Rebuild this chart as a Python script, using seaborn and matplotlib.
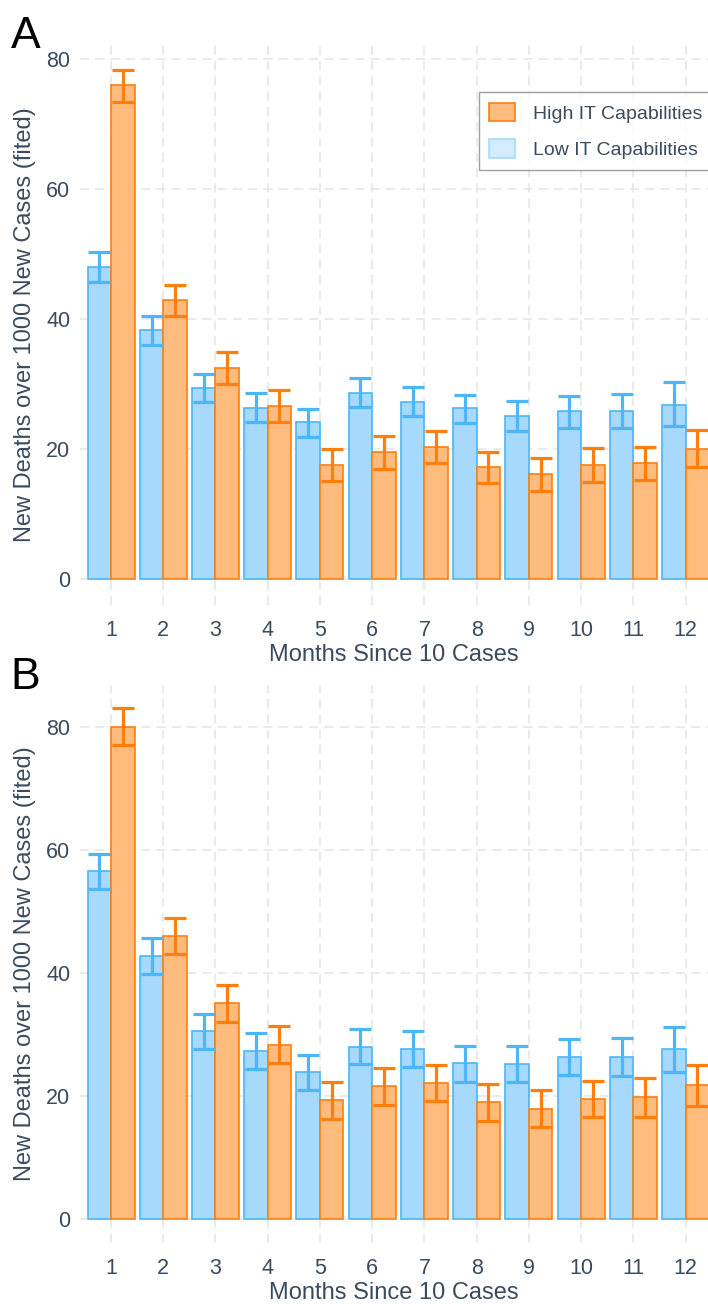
import matplotlib
matplotlib.use('Agg')
import matplotlib.pyplot as plt
import matplotlib.patches as mpatches
import pandas as pd
import seaborn as sns

# Data
months = list(range(1, 13))

a_low = [48.0, 38.3, 29.4, 26.4, 24.1, 28.7, 27.3, 26.3, 25.1, 25.8, 25.9, 26.8]
a_low_lo = [45.7, 36.1, 27.2, 24.2, 21.9, 26.5, 25.1, 24.0, 22.8, 23.3, 23.2, 23.5]
a_low_hi = [50.3, 40.5, 31.6, 28.6, 26.2, 30.9, 29.5, 28.4, 27.4, 28.2, 28.5, 30.3]
a_high = [76.0, 42.9, 32.5, 26.6, 17.5, 19.5, 20.4, 17.3, 16.1, 17.5, 17.8, 20.0]
a_high_lo = [73.5, 40.5, 30.0, 24.2, 15.1, 17.0, 17.9, 14.8, 13.6, 15.0, 15.2, 17.2]
a_high_hi = [78.4, 45.2, 34.9, 29.1, 19.95, 22.0, 22.8, 19.6, 18.6, 20.1, 20.4, 22.9]

b_low = [56.6, 42.7, 30.5, 27.3, 23.9, 28.0, 27.6, 25.3, 25.2, 26.4, 26.4, 27.6]
b_low_lo = [53.7, 39.8, 27.6, 24.4, 21.0, 25.2, 24.7, 22.3, 22.2, 23.4, 23.2, 23.9]
b_low_hi = [59.4, 45.6, 33.4, 30.2, 26.7, 30.9, 30.5, 28.1, 28.1, 29.3, 29.4, 31.2]
b_high = [80.0, 46.0, 35.1, 28.3, 19.3, 21.6, 22.1, 19.0, 17.9, 19.5, 19.8, 21.7]
b_high_lo = [77.1, 43.0, 32.1, 25.3, 16.3, 18.6, 19.1, 16.0, 15.0, 16.5, 16.6, 18.4]
b_high_hi = [83.0, 49.0, 38.1, 31.3, 22.2, 24.6, 25.1, 22.0, 21.0, 22.5, 22.9, 25.1]

groups = ['Low IT Capabilities', 'High IT Capabilities']
fills = {'Low IT Capabilities': '#a6d9fb', 'High IT Capabilities': '#fdbb7d'}
edges = {'Low IT Capabilities': '#4cb6f6', 'High IT Capabilities': '#fe7f0e'}
text_col = '#3b4b5e'

sns.set_theme(style='white')
plt.rcParams['font.family'] = ['Liberation Sans', 'DejaVu Sans']


def make_df(low, high):
    return pd.DataFrame({
        'month': months * 2,
        'value': low + high,
        'group': [groups[0]] * 12 + [groups[1]] * 12,
    })


def draw_panel(ax, low, low_lo, low_hi, high, high_lo, high_hi, ylim):
    df = make_df(low, high)
    sns.barplot(data=df, x='month', y='value', hue='group', hue_order=groups,
                palette=fills, width=0.9, saturation=1, errorbar=None,
                legend=False, ax=ax)
    series = [(low, low_lo, low_hi), (high, high_lo, high_hi)]
    for cont, g, (v, lo, hi) in zip(ax.containers, groups, series):
        xs = []
        for bar in cont:
            bar.set_edgecolor(edges[g])
            bar.set_linewidth(1.2)
            xs.append(bar.get_x() + bar.get_width() / 2)
        yerr = [[m - l for m, l in zip(v, lo)], [h - m for m, h in zip(v, hi)]]
        ax.errorbar(xs, v, yerr=yerr, fmt='none', ecolor=edges[g],
                    elinewidth=2.3, capsize=7.8, capthick=2.3, zorder=5)

    ax.set_xlim(-0.594, 11.43)
    ax.set_ylim(*ylim)
    ax.set_yticks([0, 20, 40, 60, 80])
    ax.set_axisbelow(True)
    ax.grid(True, color='#e4e4e4', linestyle=(0, (6, 4)), linewidth=1.1)
    sns.despine(ax=ax, left=True, bottom=True)
    ax.tick_params(length=0, labelsize=15.5, colors=text_col)
    ax.tick_params(axis='x', pad=11)
    ax.tick_params(axis='y', pad=7)
    ax.set_xlabel('Months Since 10 Cases', fontsize=17, color=text_col, labelpad=2)
    ax.set_ylabel('New Deaths over 1000 New Cases (fited)', fontsize=17,
                  color=text_col, labelpad=7)


fig = plt.figure(figsize=(7.08, 13.04), dpi=100)
ax_a = fig.add_axes([0.113, 0.536, 0.887, 0.4295])
ax_b = fig.add_axes([0.113, 0.0468, 0.887, 0.4279])

draw_panel(ax_a, a_low, a_low_lo, a_low_hi, a_high, a_high_lo, a_high_hi, (-4.0, 82.2))
draw_panel(ax_b, b_low, b_low_lo, b_low_hi, b_high, b_high_lo, b_high_hi, (-3.9, 86.8))

handles = [
    mpatches.Patch(facecolor=fills['High IT Capabilities'], edgecolor=edges['High IT Capabilities'],
                   linewidth=1.2, label='High IT Capabilities'),
    mpatches.Patch(facecolor='#d2ebfd', edgecolor='#a8d9fb', linewidth=1.2,
                   label='Low IT Capabilities'),
]
leg = ax_a.legend(handles=handles, loc='upper left', bbox_to_anchor=(0.635, 0.916),
                  fontsize=14, frameon=True, fancybox=False, borderpad=0.55,
                  handlelength=1.3, handleheight=1.1, handletextpad=0.95,
                  labelspacing=0.85, borderaxespad=0)
leg.get_frame().set_edgecolor('#888888')
leg.get_frame().set_linewidth(1.0)
for t in leg.get_texts():
    t.set_color(text_col)

fig.text(0.015, 0.9635, 'A', fontsize=32, color='black', va='baseline')
fig.text(0.015, 0.4715, 'B', fontsize=32, color='black', va='baseline')

fig.savefig('out.png', dpi=100)
